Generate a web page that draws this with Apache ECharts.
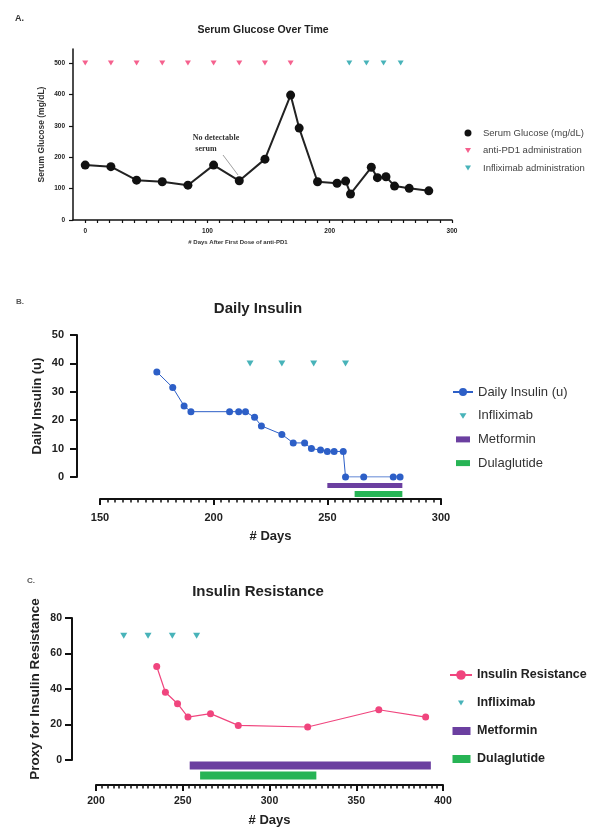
<!DOCTYPE html>
<html>
<head>
<meta charset="utf-8">
<script src="https://cdn.jsdelivr.net/npm/echarts@6/dist/echarts.min.js"></script>
<style>
  html, body { margin: 0; padding: 0; background: #fff; }
  #chartContainer { width: 592px; height: 828px; }
</style>
</head>
<body>
<div id="chartContainer"></div>
<script>
// Panel A - serum glucose
const glucoseDays = [0, 21, 42, 63, 84, 105, 126, 147, 168, 175, 190, 206, 213, 217, 234, 239, 246, 253, 265, 281];
const glucoseVals = [175, 170, 127, 122, 111, 175, 125, 194, 398, 293, 122, 117, 124, 83, 168, 135, 138, 108, 101, 93];
const antiPd1Days = [0, 21, 42, 63, 84, 105, 126, 147, 168];
const infliximabDays = [216, 230, 244, 258];
const markerLevelA = 500;
const glucoseTicks = [0, 100, 200, 300, 400, 500];
const dayLabelsA = [0, 100, 200, 300];

// Panel B - daily insulin
const insulinDays = [175, 182, 187, 190, 207, 211, 214, 218, 221, 230, 235, 240, 243, 247, 250, 253, 257, 258, 266, 279, 282];
const insulinVals = [37, 31.5, 25, 23, 23, 23, 23, 21, 18, 15, 12, 12, 10, 9.5, 9, 9, 9, 0, 0, 0, 0];
const markerLevelB = 40;
const metforminB = [250, 283];
const dulaglutideB = [262, 283];

// Panel C - insulin resistance
const resistanceDays = [235, 240, 247, 253, 266, 282, 322, 363, 390];
const resistanceVals = [52.7, 38.2, 31.7, 24.2, 26.1, 19.5, 18.6, 28.3, 24.2];
const markerLevelC = 70;
const metforminC = [254, 393];
const dulaglutideC = [260, 327];

const FONT = 'Liberation Sans, Arial, sans-serif';
const PINK = '#f23a72';
const TEAL = '#1aa0a8';
const BLUE = '#2d5fc7';
const PURPLE = '#6b3fa0';
const GREEN = '#27b455';
const PINK_C = '#f0457e';
const TRI = 'path://M0,0L10,0L5,8Z';

const tickDaysA = [];
for (let d = 0; d <= 300; d += 10) tickDaysA.push(d);

function pairs(xs, ys) {
    return xs.map((x, i) => [x, ys[i]]);
}
function atLevel(xs, level) {
    return xs.map(x => [x, level]);
}

function valueAxis(extra) {
    return Object.assign({
        type: 'value',
        splitLine: { show: false },
        axisLine: { show: true, onZero: false, lineStyle: { color: '#111', width: 2 } },
        axisTick: { show: true, length: 6, lineStyle: { color: '#111', width: 2 } },
        axisLabel: { fontFamily: FONT, fontWeight: 'bold', fontSize: 10.5, color: '#222' },
        nameTextStyle: { fontFamily: FONT, fontWeight: 'bold', fontSize: 13, color: '#222' },
        nameLocation: 'middle',
        nameMoveOverlap: false
    }, extra);
}

function barLine(name, span, level, color, width, gx) {
    return {
        name: name, type: 'line', xAxisIndex: gx, yAxisIndex: gx,
        data: atLevel(span, level), symbol: 'none', clip: false,
        itemStyle: { color: color },
        lineStyle: { color: color, width: width, cap: 'butt' }
    };
}

const myChart = echarts.init(document.getElementById('chartContainer'));

const option = {
    animation: false,
    backgroundColor: '#fff',
    grid: [
        { left: 73, top: 49, width: 379, height: 171 },
        { left: 100, top: 335, width: 341, height: 142 },
        { left: 96, top: 618, width: 347, height: 144 }
    ],
    xAxis: [
        valueAxis({
            gridIndex: 0, min: -10, max: 300,
            axisLine: { show: true, onZero: false, lineStyle: { color: '#111', width: 1.5 } },
            axisTick: { show: true, customValues: tickDaysA, length: 3, lineStyle: { color: '#111', width: 1.2 } },
            axisLabel: { customValues: dayLabelsA, fontFamily: FONT, fontWeight: 'bold', fontSize: 6.5, color: '#222', margin: 8 }
        }),
        valueAxis({
            gridIndex: 1, min: 150, max: 300, interval: 50, offset: 22,
            minorTick: { show: true, splitNumber: 15, length: 3.5, lineStyle: { color: '#111', width: 1.5 } },
            axisLabel: { fontFamily: FONT, fontWeight: 'bold', fontSize: 11, color: '#222', margin: 13 },
            name: '# Days', nameGap: 31
        }),
        valueAxis({
            gridIndex: 2, min: 200, max: 400, interval: 50, offset: 25,
            minorTick: { show: true, splitNumber: 15, length: 3.5, lineStyle: { color: '#111', width: 1.5 } },
            axisLabel: { fontFamily: FONT, fontWeight: 'bold', fontSize: 10.5, color: '#222', margin: 11 },
            name: '# Days', nameGap: 29
        })
    ],
    yAxis: [
        valueAxis({
            gridIndex: 0, min: 0, max: 545,
            axisLine: { show: true, onZero: false, lineStyle: { color: '#111', width: 1.5 } },
            axisTick: { show: true, customValues: glucoseTicks, length: 4, lineStyle: { color: '#111', width: 1.2 } },
            axisLabel: { customValues: glucoseTicks, fontFamily: FONT, fontWeight: 'bold', fontSize: 6.5, color: '#222', margin: 8 },
            name: 'Serum Glucose (mg/dL)', nameGap: 27,
            nameTextStyle: { fontFamily: FONT, fontWeight: 'bold', fontSize: 8.5, color: '#333' }
        }),
        valueAxis({
            gridIndex: 1, min: 0, max: 50, interval: 10, offset: 23,
            axisTick: { show: true, length: 7, lineStyle: { color: '#111', width: 2 } },
            axisLabel: { fontFamily: FONT, fontWeight: 'bold', fontSize: 11, color: '#222', margin: 13 },
            name: 'Daily Insulin (u)', nameGap: 33.5
        }),
        valueAxis({
            gridIndex: 2, min: 0, max: 80, interval: 20, offset: 24,
            axisTick: { show: true, length: 7, lineStyle: { color: '#111', width: 2 } },
            axisLabel: { fontFamily: FONT, fontWeight: 'bold', fontSize: 10.5, color: '#222', margin: 10 },
            name: 'Proxy for Insulin Resistance', nameGap: 30,
            nameTextStyle: { fontFamily: FONT, fontWeight: 'bold', fontSize: 13.5, color: '#222' }
        })
    ],
    legend: [
        {
            orient: 'vertical', left: 453, top: 123, itemWidth: 20, itemHeight: 8, itemGap: 7.5,
            selectedMode: false,
            textStyle: { fontFamily: FONT, fontSize: 9.5, color: '#444', lineHeight: 10 },
            data: [
                { name: 'Serum Glucose (mg/dL)', icon: 'path://M0,0M20,8M10,0.5A3.5,3.5,0,1,1,9.99,0.5Z' },
                { name: 'anti-PD1 administration', icon: 'path://M0,0M20,8M7,1.5H13L10,6.5Z' },
                { name: 'Infliximab administration', icon: 'path://M0,0M20,8M7,1.5H13L10,6.5Z' }
            ]
        },
        {
            orient: 'vertical', left: 447, top: 380, itemWidth: 20, itemHeight: 10, itemGap: 9.7,
            selectedMode: false,
            textStyle: { fontFamily: FONT, fontSize: 13, color: '#333', lineHeight: 14 },
            data: [
                { name: 'Daily Insulin (u)' },
                { name: 'Infliximab', icon: 'path://M0,0M20,10M6.5,2.5H13.5L10,8Z' },
                { name: 'Metformin', icon: 'path://M0,0M20,10M3,2H17V8H3Z' },
                { name: 'Dulaglutide', icon: 'path://M0,0M20,10M3,2H17V8H3Z' }
            ]
        },
        {
            orient: 'vertical', left: 444, top: 663, itemWidth: 22, itemHeight: 12, itemGap: 14,
            selectedMode: false,
            textStyle: { fontFamily: FONT, fontSize: 12.5, fontWeight: 'bold', color: '#222', lineHeight: 14 },
            data: [
                { name: 'Insulin Resistance' },
                { name: 'Infliximab', icon: 'path://M0,0M22,12M8,3.5H14L11,8.5Z' },
                { name: 'Metformin', icon: 'path://M0,0M22,12M2.5,2H20.5V10H2.5Z' },
                { name: 'Dulaglutide', icon: 'path://M0,0M22,12M2.5,2H20.5V10H2.5Z' }
            ]
        }
    ],
    graphic: [
        { type: 'text', x: 15, y: 19, style: { text: 'A.', fontFamily: FONT, fontWeight: 'bold', fontSize: 9, fill: '#333', verticalAlign: 'middle' } },
        { type: 'text', x: 16, y: 302, style: { text: 'B.', fontFamily: FONT, fontWeight: 'bold', fontSize: 8, fill: '#555', verticalAlign: 'middle' } },
        { type: 'text', x: 27, y: 581, style: { text: 'C.', fontFamily: FONT, fontWeight: 'bold', fontSize: 8, fill: '#555', verticalAlign: 'middle' } },
        { type: 'text', x: 263, y: 30.5, style: { text: 'Serum Glucose Over Time', fontFamily: FONT, fontWeight: 'bold', fontSize: 10.5, fill: '#222', align: 'center', verticalAlign: 'middle' } },
        { type: 'text', x: 258, y: 309, style: { text: 'Daily Insulin', fontFamily: FONT, fontWeight: 'bold', fontSize: 15, fill: '#222', align: 'center', verticalAlign: 'middle' } },
        { type: 'text', x: 258, y: 592, style: { text: 'Insulin Resistance', fontFamily: FONT, fontWeight: 'bold', fontSize: 15, fill: '#222', align: 'center', verticalAlign: 'middle' } },
        { type: 'text', x: 238, y: 242, style: { text: '# Days After First Dose of anti-PD1', fontFamily: FONT, fontWeight: 'bold', fontSize: 6, fill: '#333', align: 'center', verticalAlign: 'middle' } },
        { type: 'text', x: 216, y: 137.5, style: { text: 'No detectable', fontFamily: 'Liberation Serif, serif', fontWeight: 'bold', fontSize: 8, fill: '#333', align: 'center', verticalAlign: 'middle' } },
        { type: 'text', x: 206, y: 149, style: { text: 'serum', fontFamily: 'Liberation Serif, serif', fontWeight: 'bold', fontSize: 8, fill: '#333', align: 'center', verticalAlign: 'middle' } },
        { type: 'line', shape: { x1: 223, y1: 155, x2: 238, y2: 175 }, style: { stroke: '#888', lineWidth: 0.8 } }
    ],
    series: [
        {
            name: 'Serum Glucose (mg/dL)', type: 'line', xAxisIndex: 0, yAxisIndex: 0,
            data: pairs(glucoseDays, glucoseVals),
            symbol: 'circle', symbolSize: 9,
            itemStyle: { color: '#111' },
            lineStyle: { color: '#222', width: 2 }
        },
        {
            name: 'anti-PD1 administration', type: 'scatter', xAxisIndex: 0, yAxisIndex: 0,
            data: atLevel(antiPd1Days, markerLevelA), symbol: TRI, symbolSize: [6, 5],
            itemStyle: { color: PINK }
        },
        {
            name: 'Infliximab administration', type: 'scatter', xAxisIndex: 0, yAxisIndex: 0,
            data: atLevel(infliximabDays, markerLevelA), symbol: TRI, symbolSize: [6, 5],
            itemStyle: { color: TEAL }
        },
        {
            name: 'Daily Insulin (u)', type: 'line', xAxisIndex: 1, yAxisIndex: 1,
            data: pairs(insulinDays, insulinVals),
            symbol: 'circle', symbolSize: 7,
            itemStyle: { color: BLUE },
            lineStyle: { color: BLUE, width: 1 }
        },
        {
            name: 'Infliximab', type: 'scatter', xAxisIndex: 1, yAxisIndex: 1,
            data: atLevel(infliximabDays, markerLevelB), symbol: TRI, symbolSize: [7, 6],
            itemStyle: { color: TEAL }
        },
        barLine('Metformin', metforminB, -3, PURPLE, 5, 1),
        barLine('Dulaglutide', dulaglutideB, -6, GREEN, 6, 1),
        {
            name: 'Insulin Resistance', type: 'line', xAxisIndex: 2, yAxisIndex: 2,
            data: pairs(resistanceDays, resistanceVals),
            symbol: 'circle', symbolSize: 7,
            itemStyle: { color: PINK_C },
            lineStyle: { color: PINK_C, width: 1.2 }
        },
        {
            name: 'Infliximab', type: 'scatter', xAxisIndex: 2, yAxisIndex: 2,
            data: atLevel(infliximabDays, markerLevelC), symbol: TRI, symbolSize: [7, 6],
            itemStyle: { color: TEAL }
        },
        barLine('Metformin', metforminC, -3.1, PURPLE, 8, 2),
        barLine('Dulaglutide', dulaglutideC, -8.7, GREEN, 8, 2)
    ]
};

myChart.setOption(option);
</script>
</body>
</html>
